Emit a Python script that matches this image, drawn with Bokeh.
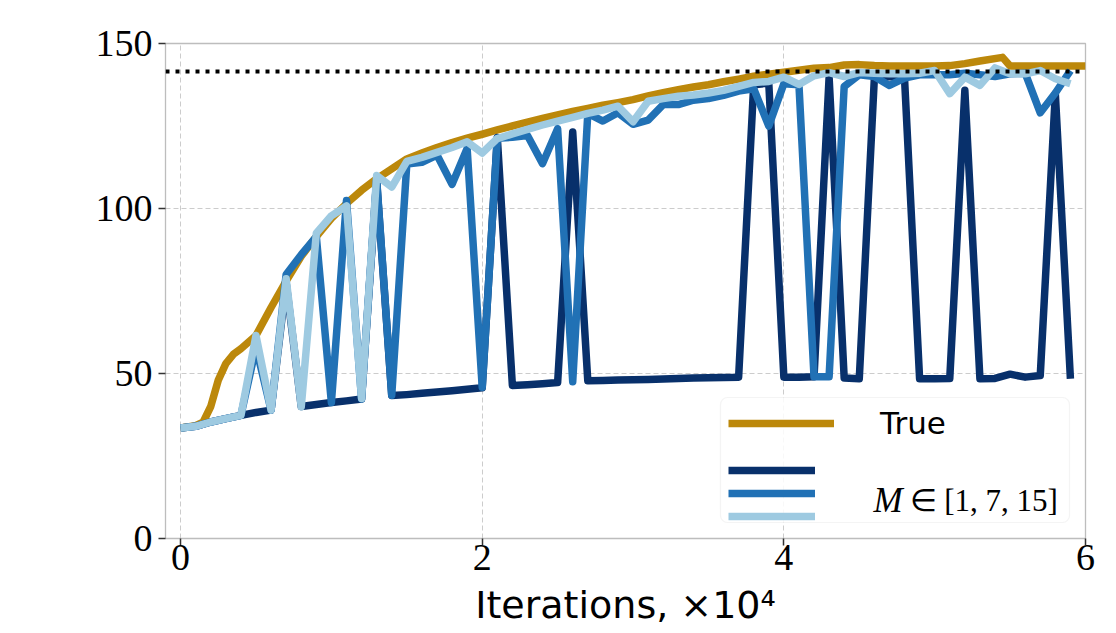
from bokeh.plotting import figure
from bokeh.models import (FixedTicker, Legend, LegendItem, BoxAnnotation, Label,
                          Range1d, Span)
from bokeh.embed import file_html
from bokeh.resources import INLINE

# ---------------- data ----------------
iterations = [0.0, 0.1, 0.2, 0.3, 0.4, 0.5, 0.6, 0.7, 0.8, 0.9,
              1.0, 1.1, 1.2, 1.3, 1.4, 1.5, 1.6, 1.7, 1.8, 1.9,
              2.0, 2.1, 2.2, 2.3, 2.4, 2.5, 2.6, 2.7, 2.8, 2.9,
              3.0, 3.1, 3.2, 3.3, 3.4, 3.5, 3.6, 3.7, 3.8, 3.9,
              4.0, 4.1, 4.2, 4.3, 4.4, 4.5, 4.6, 4.7, 4.8, 4.9,
              5.0, 5.1, 5.2, 5.3, 5.4, 5.5, 5.6, 5.7, 5.8, 5.9]

m1 = [33.5, 34.0, 35.3, 36.3, 37.3, 38.2, 38.9, 77.5, 40.0, 40.6,
      41.2, 41.7, 42.3, 108.5, 43.3, 43.6, 44.0, 44.4, 44.8, 45.2,
      45.7, 121.5, 46.4, 46.6, 46.9, 47.3, 123.2, 47.8, 47.9, 48.0,
      48.1, 48.2, 48.3, 48.5, 48.6, 48.7, 48.8, 48.9, 137.5, 138.0,
      48.9, 48.9, 49.0, 139.8, 48.6, 48.4, 139.5, 140.0, 139.5, 48.4,
      48.4, 48.5, 135.8, 48.4, 48.5, 49.8, 48.9, 49.4, 134.8, 48.4]

m7 = [33.5, 34.0, 35.3, 36.3, 37.3, 58.0, 38.9, 80.0, 86.0, 91.5,
      41.2, 102.4, 42.3, 109.0, 43.4, 113.5, 114.0, 116.2, 107.3, 118.2,
      45.8, 121.3, 121.6, 122.1, 113.6, 124.2, 47.5, 128.8, 126.5, 129.0,
      125.5, 126.8, 131.5, 131.5, 132.8, 133.3, 134.3, 135.6, 136.3, 125.0,
      137.8, 137.5, 49.0, 49.0, 137.0, 140.5, 140.0, 137.3, 139.5, 140.5,
      140.5, 140.5, 141.0, 140.5, 140.0, 140.8, 141.0, 129.0, 135.0, 141.8]

m15 = [33.5, 34.0, 35.3, 36.3, 37.3, 61.5, 38.9, 78.7, 39.9, 92.5,
       97.8, 100.8, 42.4, 110.0, 106.5, 114.3, 115.5, 117.0, 118.5, 120.2,
       116.8, 121.2, 122.6, 124.0, 125.3, 126.5, 127.6, 128.8, 129.8, 131.0,
       126.3, 132.5, 133.3, 134.0, 134.4, 135.0, 135.8, 137.0, 138.2, 138.5,
       139.8, 137.6, 140.2, 141.2, 140.0, 141.2, 141.0, 140.8, 140.8, 141.0,
       141.8, 134.8, 139.8, 137.3, 142.6, 140.8, 140.8, 141.8, 139.3, 137.8]

true_x = [0.0, 0.1, 0.15, 0.2, 0.25, 0.3, 0.35, 0.4, 0.5, 0.6, 0.7, 0.8, 0.9,
          1.0, 1.1, 1.2, 1.3, 1.4, 1.5, 1.6, 1.7, 1.8, 1.9,
          2.0, 2.1, 2.2, 2.3, 2.4, 2.5, 2.6, 2.7, 2.8, 2.9,
          3.0, 3.1, 3.2, 3.3, 3.4, 3.5, 3.6, 3.7, 3.8, 3.9,
          4.0, 4.1, 4.2, 4.3, 4.4, 4.5, 4.6, 4.7, 4.8, 4.9,
          5.0, 5.1, 5.2, 5.3, 5.45, 5.5, 5.6, 5.7, 5.8, 5.9, 6.0]
true_y = [33.5, 34.2, 35.3, 40.0, 48.0, 53.0, 55.8, 57.5, 61.5, 70.0, 78.0, 85.5, 91.5,
          97.0, 101.5, 105.5, 109.0, 112.0, 115.0, 116.8, 118.5, 120.0, 121.3,
          122.5, 123.8, 125.0, 126.2, 127.3, 128.4, 129.4, 130.3, 131.3, 132.1,
          133.0, 134.1, 135.1, 136.0, 136.8, 137.5, 138.4, 139.2, 140.1, 140.7,
          141.3, 141.9, 142.5, 142.7, 143.5, 143.6, 143.3, 143.2, 143.2, 143.2,
          143.2, 143.3, 143.9, 144.7, 145.8, 143.2, 143.2, 143.2, 143.2, 143.2, 143.2]

optimum_level = 141.5
x_ticks = [0, 2, 4, 6]
y_ticks = [0, 50, 100, 150]
x_label = "Iterations, ×10⁴"
true_label = "True"
m_symbol = "M"
m_values = "∈ [1, 7, 15]"

GOLD = "#bc880b"
NAVY = "#08306b"
MID = "#2171b5"
LIGHT = "#9ecae1"

# ---------------- figure ----------------
p = figure(frame_width=920, frame_height=495,
           x_range=Range1d(-0.1, 6.0), y_range=Range1d(0, 150),
           output_backend="svg", toolbar_location=None,
           min_border_left=165, min_border_right=31,
           min_border_top=43, min_border_bottom=60)
p.background_fill_color = "white"
p.border_fill_color = "white"
p.outline_line_color = "#bdbdbd"
p.outline_line_width = 1.3

LW = 7.5
r_true = p.line(true_x, true_y, line_color=GOLD, line_width=LW, line_join="round")
r1 = p.line(iterations, m1, line_color=NAVY, line_width=LW, line_join="round")
r7 = p.line(iterations, m7, line_color=MID, line_width=LW, line_join="round")
r15 = p.line(iterations, m15, line_color=LIGHT, line_width=LW, line_join="round")

p.add_layout(Span(location=optimum_level, dimension="width", line_color="black",
                  line_width=4, line_dash="4 6"))

# axes
p.xaxis.ticker = FixedTicker(ticks=x_ticks)
p.yaxis.ticker = FixedTicker(ticks=y_ticks)
p.axis.axis_line_color = None
p.axis.major_tick_in = 0
p.axis.major_tick_out = 7
p.axis.major_tick_line_color = "#333333"
p.axis.major_tick_line_width = 1.5
p.axis.minor_tick_line_color = None
p.axis.major_label_text_font = "Liberation Serif"
p.axis.major_label_text_font_size = "38px"
p.axis.major_label_text_color = "black"
p.xaxis.major_label_standoff = -1
p.yaxis.major_label_standoff = 6
p.xaxis.axis_label = x_label
p.xaxis.axis_label_text_font = "DejaVu Sans"
p.xaxis.axis_label_text_font_size = "38px"
p.xaxis.axis_label_text_font_style = "normal"
p.xaxis.axis_label_text_color = "black"
p.xaxis.axis_label_standoff = 10

p.grid.grid_line_color = "#cccccc"
p.grid.grid_line_width = 1
p.grid.grid_line_dash = "5 3"

# legend frame
p.add_layout(BoxAnnotation(left=555, right=904, bottom=16, top=141,
                           left_units="screen", right_units="screen",
                           top_units="screen", bottom_units="screen",
                           fill_color="white", fill_alpha=0.85,
                           line_color="#d9d9d9", line_width=1.2,
                           border_radius=7))

leg_true = Legend(items=[LegendItem(label=true_label, renderers=[r_true])],
                  location=(563, 95), glyph_width=106, glyph_height=40,
                  label_height=40, label_standoff=46, spacing=0,
                  label_text_font="DejaVu Sans", label_text_font_size="31px",
                  label_text_color="black",
                  padding=0, margin=0, background_fill_alpha=0,
                  border_line_alpha=0)
p.add_layout(leg_true)

leg_m = Legend(items=[LegendItem(label=" ", renderers=[r1]),
                      LegendItem(label=" ", renderers=[r7]),
                      LegendItem(label=" ", renderers=[r15])],
               location=(563, 12), glyph_width=87, glyph_height=20,
               label_height=20, label_width=10, spacing=3, label_standoff=0,
               label_text_font_size="8px",
               padding=0, margin=0, background_fill_alpha=0,
               border_line_alpha=0)
p.add_layout(leg_m)

p.add_layout(Label(x=708, y=38, x_units="screen", y_units="screen",
                   text=m_symbol, text_font="Liberation Serif",
                   text_font_style="italic", text_font_size="35px",
                   text_baseline="alphabetic", text_color="black"))
p.add_layout(Label(x=744, y=38, x_units="screen", y_units="screen",
                   text=m_values, text_font="Liberation Serif",
                   text_font_size="31px",
                   text_baseline="alphabetic", text_color="black"))

open("out.html", "w").write(file_html(p, INLINE))
